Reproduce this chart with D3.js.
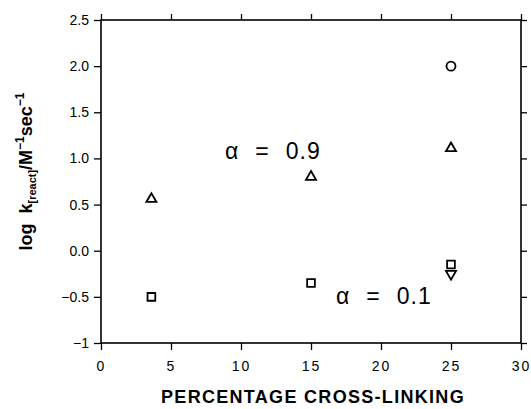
<!DOCTYPE html>
<html>
<head>
<meta charset="utf-8">
<script src="https://cdn.jsdelivr.net/npm/d3@7"></script>
<style>
  body { margin: 0; background: #fff; }
  svg { display: block; font-family: "Liberation Sans", Arial, sans-serif; }
  .tick text { font-size: 14px; fill: #000; }
  .tick line { stroke: #000; stroke-width: 1.3; }
</style>
</head>
<body>
<svg class="vis" width="531" height="409"></svg>
<script>
// values
const crossLink = [3.6, 15, 25];
const alpha09 = [0.56, 0.80, 1.11];   // triangles
const alpha01 = [-0.50, -0.35, -0.15]; // squares
const circlePts = [{ x: 25, y: 2.0 }];
const invTriPts = [{ x: 25, y: -0.25 }];

const xTicks = [0, 5, 10, 15, 20, 25, 30];
const yTicks = [-1, -0.5, 0, 0.5, 1, 1.5, 2, 2.5];
const yTickLabels = ["\u22121", "\u22120.5", "0.0", "0.5", "1.0", "1.5", "2.0", "2.5"];

const margin = { left: 101, top: 20, right: 10, bottom: 66 };
const W = 531, H = 409;
const w = W - margin.left - margin.right;
const h = H - margin.top - margin.bottom;

const svg = d3.select("svg.vis");
const g = svg.append("g").attr("transform", `translate(${margin.left},${margin.top})`);

const x = d3.scaleLinear().domain([0, 30]).range([0, w]);
const y = d3.scaleLinear().domain([-1, 2.5]).range([h, 0]);

// axes
const ax = (sel) => { sel.select(".domain").remove(); };

g.append("g").attr("transform", `translate(0,${h})`)
  .call(d3.axisBottom(x).tickValues(xTicks).tickSize(7).tickPadding(11).tickSizeOuter(0))
  .call(ax)
  .selectAll("text").style("letter-spacing", "2px");

g.append("g")
  .call(d3.axisTop(x).tickValues(xTicks).tickSize(6).tickFormat("").tickSizeOuter(0))
  .call(ax);

g.append("g")
  .call(d3.axisLeft(y).tickValues(yTicks).tickSize(7).tickPadding(5)
    .tickFormat((d, i) => yTickLabels[i]).tickSizeOuter(0))
  .call(ax);

g.append("g").attr("transform", `translate(${w},0)`)
  .call(d3.axisRight(y).tickValues(yTicks).tickSize(6).tickFormat("").tickSizeOuter(0))
  .call(ax);

g.append("rect")
  .attr("width", w).attr("height", h)
  .attr("fill", "none").attr("stroke", "#000").attr("stroke-width", 1.6);

// markers
const mk = { fill: "none", stroke: "#000", "stroke-width": 1.8 };
const applyMk = (s) => { Object.entries(mk).forEach(([k, v]) => s.attr(k, v)); return s; };

const tri = d3.symbol().type(d3.symbolTriangle).size(44);
const sq = d3.symbol().type(d3.symbolSquare).size(60);

applyMk(g.selectAll("path.tri").data(crossLink.map((c, i) => ({ x: c, y: alpha09[i] })))
  .join("path").attr("class", "tri").attr("d", tri)
  .attr("transform", d => `translate(${x(d.x)},${y(d.y)})`));

applyMk(g.selectAll("path.sq").data(crossLink.map((c, i) => ({ x: c, y: alpha01[i] })))
  .join("path").attr("class", "sq").attr("d", sq)
  .attr("transform", d => `translate(${x(d.x)},${y(d.y)})`));

applyMk(g.selectAll("path.itri").data(invTriPts)
  .join("path").attr("class", "itri").attr("d", tri)
  .attr("transform", d => `translate(${x(d.x)},${y(d.y)}) rotate(180)`));

applyMk(g.selectAll("circle.pt").data(circlePts)
  .join("circle").attr("class", "pt").attr("r", 4.5)
  .attr("cx", d => x(d.x)).attr("cy", d => y(d.y)));

// annotations  (alpha, '=', value spread apart like the original)
const label = (lx, ly, val) => {
  const t = svg.append("text").attr("x", lx).attr("y", ly).attr("font-size", 23);
  t.append("tspan").text("\u03b1");
  t.append("tspan").attr("dx", 17).text("=");
  t.append("tspan").attr("dx", 17).style("letter-spacing", "1px").text(val);
};
label(225, 159, "0.9");
label(336, 304, "0.1");

// axis titles
svg.append("text")
  .attr("x", margin.left + w / 2 + 2).attr("y", 403)
  .attr("text-anchor", "middle").attr("font-size", 18).attr("font-weight", "bold")
  .style("letter-spacing", "1.3px")
  .text("PERCENTAGE CROSS-LINKING");

const yl = svg.append("text")
  .attr("transform", `translate(32,${margin.top + h / 2 - 10}) rotate(-90)`)
  .attr("text-anchor", "middle").attr("font-size", 18).attr("font-weight", "bold");
yl.append("tspan").text("log\u00a0\u00a0k");
yl.append("tspan").attr("font-size", 11).attr("dy", 4).text("[react]");
yl.append("tspan").attr("dy", -4).text("/M");
yl.append("tspan").attr("font-size", 12).attr("dy", -8).text("\u22121");
yl.append("tspan").attr("dy", 8).text("sec");
yl.append("tspan").attr("font-size", 12).attr("dy", -8).text("\u22121");
</script>
</body>
</html>
